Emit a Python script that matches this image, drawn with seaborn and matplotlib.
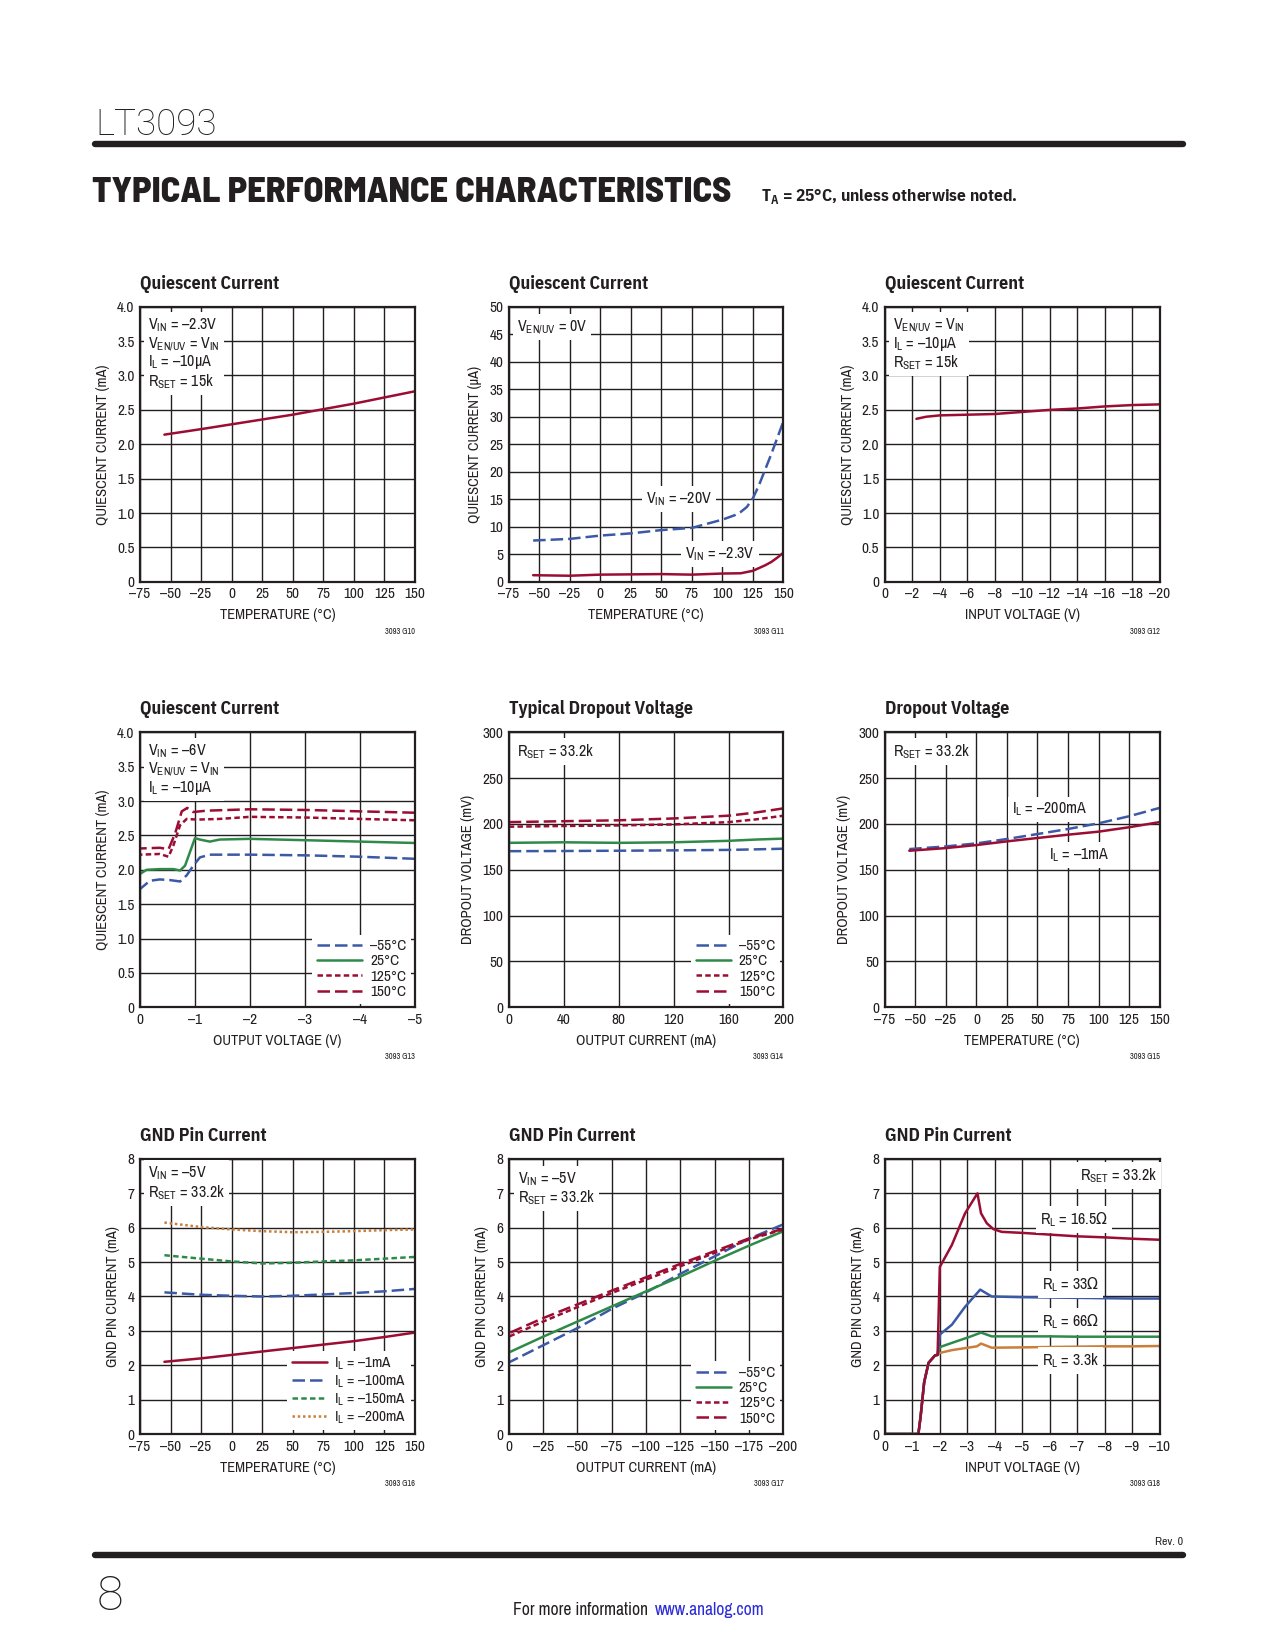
import matplotlib
matplotlib.use("Agg")
import matplotlib.pyplot as plt
from matplotlib.lines import Line2D
import seaborn as sns

sns.set_style("white")
REG = ['Archivo Narrow', 'DejaVu Sans']
BOLD = ['IBM Plex Sans Condensed', 'DejaVu Sans']
plt.rcParams['font.family'] = REG
plt.rcParams['font.stretch'] = 'condensed'
plt.rcParams['mathtext.fontset'] = 'custom'
plt.rcParams['mathtext.rm'] = 'DejaVu Sans'
plt.rcParams['mathtext.fallback'] = 'stixsans'
plt.rcParams['axes.unicode_minus'] = False

INK = '#231f20'
RED = '#9b0d33'
BLUE = '#3c59a6'
GREEN = '#2f8a4a'
ORANGE = '#c97f3b'
LONG = (0, (5, 2))
SHORT = (0, (2.2, 1.3))
DOT = (0, (1, 1.1))

# ---- tick lists ----
temp_ticks = [-75, -50, -25, 0, 25, 50, 75, 100, 125, 150]
temp_labels = ['–75', '–50', '–25', '0', '25', '50', '75', '100', '125', '150']
vin20_ticks = [0, -2, -4, -6, -8, -10, -12, -14, -16, -18, -20]
vin20_labels = ['0', '–2', '–4', '–6', '–8', '–10', '–12', '–14', '–16', '–18', '–20']
vout_ticks = [0, -1, -2, -3, -4, -5]
vout_labels = ['0', '–1', '–2', '–3', '–4', '–5']
iout_ticks = [0, 40, 80, 120, 160, 200]
iout_labels = ['0', '40', '80', '120', '160', '200']
iout_neg_ticks = [0, -25, -50, -75, -100, -125, -150, -175, -200]
iout_neg_labels = ['0', '–25', '–50', '–75', '–100', '–125', '–150', '–175', '–200']
vin10_ticks = [0, -1, -2, -3, -4, -5, -6, -7, -8, -9, -10]
vin10_labels = ['0', '–1', '–2', '–3', '–4', '–5', '–6', '–7', '–8', '–9', '–10']

# ---- G10: quiescent current vs temperature ----
g10_t = [-55, -25, 0, 25, 50, 75, 100, 125, 150]
g10_iq = [2.14, 2.22, 2.29, 2.36, 2.43, 2.51, 2.59, 2.68, 2.77]

# ---- G11: shutdown quiescent current vs temperature ----
g11_t20 = [-55, -25, 0, 25, 50, 75, 100, 110, 115, 120, 125, 130, 135, 140, 145, 150]
g11_vin20 = [7.5, 7.8, 8.4, 8.8, 9.4, 9.8, 11.3, 12.1, 12.7, 13.6, 15.2, 17.6, 20.4, 23.2, 26.2, 29.2]
g11_t23 = [-55, -25, 0, 25, 50, 75, 100, 115, 125, 135, 140, 145, 150]
g11_vin23 = [1.2, 1.1, 1.3, 1.35, 1.4, 1.3, 1.5, 1.55, 2.0, 3.0, 3.6, 4.4, 5.3]

# ---- G12: quiescent current vs input voltage ----
g12_vin = [-2.3, -3, -4, -6, -8, -10, -12, -14, -16, -18, -20]
g12_iq = [2.37, 2.40, 2.42, 2.43, 2.44, 2.47, 2.50, 2.52, 2.55, 2.57, 2.58]

# ---- G13: quiescent current vs output voltage ----
g13_v_m55 = [0, -0.18, -0.36, -0.55, -0.73, -0.85, -0.97, -1.09, -1.27, -2.0, -3.03, -4.0, -5.0]
g13_m55 = [1.72, 1.84, 1.86, 1.85, 1.83, 1.92, 2.06, 2.18, 2.22, 2.22, 2.21, 2.19, 2.16]
g13_v_25 = [0, -0.12, -0.36, -0.61, -0.73, -0.82, -0.91, -1.0, -1.09, -1.27, -1.45, -2.0, -3.03, -4.0, -5.0]
g13_25 = [1.94, 2.0, 2.01, 2.01, 1.99, 2.06, 2.26, 2.46, 2.44, 2.41, 2.44, 2.45, 2.43, 2.41, 2.39]
g13_v_125 = [0, -0.36, -0.52, -0.61, -0.73, -0.85, -1.03, -1.45, -2.0, -3.03, -4.0, -5.0]
g13_125 = [2.22, 2.23, 2.19, 2.36, 2.65, 2.74, 2.73, 2.74, 2.77, 2.76, 2.74, 2.72]
g13_v_150 = [0, -0.36, -0.52, -0.64, -0.76, -0.86, -0.97, -1.21, -2.0, -3.03, -4.0, -5.0]
g13_150 = [2.31, 2.32, 2.30, 2.53, 2.85, 2.90, 2.84, 2.86, 2.88, 2.87, 2.85, 2.83]

# ---- G14: dropout voltage vs output current ----
g14_i = [0, 40, 80, 120, 160, 180, 200]
g14_m55 = [170.3, 170.5, 170.8, 171.2, 171.7, 172.3, 173.0]
g14_25 = [179.4, 180.0, 179.4, 180.0, 181.6, 183.0, 184.0]
g14_125 = [197.0, 197.8, 198.4, 199.5, 202.0, 205.0, 209.0]
g14_150 = [202.0, 203.0, 204.0, 206.0, 209.0, 212.5, 217.0]

# ---- G15: dropout voltage vs temperature ----
g15_t = [-55, -25, 0, 25, 50, 75, 100, 125, 150]
g15_200ma = [172.6, 175.5, 178.8, 183.6, 189.0, 194.5, 200.7, 208.4, 217.5]
g15_1ma = [170.8, 173.7, 177.0, 181.0, 184.7, 188.3, 191.6, 196.4, 202.0]

# ---- G16: GND pin current vs temperature ----
g16_t = [-55, -25, 0, 25, 50, 75, 100, 125, 150]
g16_1ma = [2.1, 2.2, 2.3, 2.4, 2.5, 2.6, 2.7, 2.82, 2.95]
g16_100ma = [4.12, 4.05, 4.02, 4.0, 4.02, 4.06, 4.1, 4.15, 4.22]
g16_150ma = [5.2, 5.1, 5.02, 4.96, 4.98, 5.02, 5.05, 5.1, 5.15]
g16_200ma = [6.15, 6.02, 5.95, 5.9, 5.87, 5.88, 5.9, 5.93, 5.95]

# ---- G17: GND pin current vs output current ----
g17_i = [0, -25, -50, -75, -100, -125, -150, -175, -200]
g17_m55 = [2.08, 2.58, 3.08, 3.64, 4.12, 4.66, 5.17, 5.68, 6.1]
g17_25 = [2.37, 2.83, 3.27, 3.71, 4.15, 4.58, 5.04, 5.48, 5.9]
g17_125 = [2.83, 3.27, 3.69, 4.1, 4.49, 4.88, 5.27, 5.66, 5.95]
g17_150 = [2.93, 3.37, 3.77, 4.17, 4.56, 4.95, 5.32, 5.69, 5.97]

# ---- G18: GND pin current vs input voltage ----
g18_v_16 = [0, -1.0, -1.22, -1.3, -1.43, -1.59, -1.83, -1.92, -2.0, -2.44, -2.92, -3.37, -3.5, -3.71,
            -3.95, -4.25, -5, -6, -7, -8, -9, -10]
g18_16 = [0, 0, 0, 0.5, 1.5, 2.07, 2.29, 2.3, 4.86, 5.5, 6.42, 7.0, 6.42, 6.13,
          5.96, 5.88, 5.85, 5.8, 5.75, 5.72, 5.68, 5.65]
g18_v_33 = [0, -1.0, -1.22, -1.3, -1.43, -1.59, -1.83, -1.92, -2.01, -2.44, -2.92, -3.47, -3.89,
            -5, -6, -7, -8, -9, -10]
g18_33 = [0, 0, 0, 0.5, 1.5, 2.07, 2.29, 2.3, 2.9, 3.18, 3.7, 4.2, 4.0,
          3.98, 3.97, 3.96, 3.95, 3.94, 3.94]
g18_v_66 = [0, -1.0, -1.22, -1.3, -1.43, -1.59, -1.83, -1.92, -2.01, -2.44, -3.1, -3.5, -3.89,
            -5, -6, -7, -8, -9, -10]
g18_66 = [0, 0, 0, 0.5, 1.5, 2.07, 2.29, 2.3, 2.53, 2.65, 2.83, 2.95, 2.84,
          2.84, 2.84, 2.83, 2.83, 2.83, 2.83]
g18_v_3k = [0, -1.0, -1.22, -1.3, -1.43, -1.59, -1.83, -1.92, -2.01, -2.44, -3.35, -3.5, -3.89,
            -5, -6, -7, -8, -9, -10]
g18_3k = [0, 0, 0, 0.5, 1.5, 2.07, 2.29, 2.3, 2.36, 2.44, 2.55, 2.63, 2.51,
          2.52, 2.53, 2.54, 2.55, 2.55, 2.56]


fig = plt.figure(figsize=(12.75, 16.5), dpi=100)

col_left = [0.1098, 0.399, 0.694]
row_bottom = [0.6474, 0.3895, 0.1309]
AW, AH = 0.2155, 0.1667


def panel(r, c, title, code, xlim, ylim, xticks, xlabels, yticks, ylabels, xlabel, ylabel):
    ax = fig.add_axes([col_left[c], row_bottom[r], AW, AH])
    ax.set_xlim(*xlim)
    ax.set_ylim(*ylim)
    ax.set_xticks(xticks)
    ax.set_xticklabels(xlabels)
    ax.set_yticks(yticks)
    ax.set_yticklabels(ylabels)
    ax.set_axisbelow(True)
    ax.grid(True, color=INK, lw=1.0)
    for s in ax.spines.values():
        s.set_visible(True)
        s.set_color(INK)
        s.set_linewidth(1.6)
    ax.tick_params(length=0, pad=4, labelsize=11, colors=INK)
    ax.set_xlabel(xlabel, fontsize=10.5, color=INK, labelpad=5)
    ax.set_ylabel(ylabel, fontsize=10.5, color=INK, labelpad=5)
    ax.text(0, 1.065, title, transform=ax.transAxes, ha='left', va='baseline',
            fontsize=13, fontweight='bold', family=BOLD, color=INK)
    ax.text(1.0, -0.18, code, transform=ax.transAxes, ha='right', va='center',
            fontsize=6, color=INK)
    return ax


def line(ax, x, y, color, ls='-', label=None, z=2):
    sns.lineplot(x=x, y=y, ax=ax, color=color, linestyle=ls, linewidth=1.8,
                 label=label, zorder=z)


def note(ax, x, y, s, ha='left', va='top', coords='axes'):
    tr = ax.transAxes if coords == 'axes' else ax.transData
    ax.text(x, y, s, transform=tr, ha=ha, va=va, fontsize=11.5, color=INK, linespacing=1.05,
            zorder=4, bbox=dict(boxstyle='square,pad=0.25', facecolor='white', edgecolor='none'))


def legend(ax, hl=2.3):
    ax.legend(loc='lower right', frameon=True, facecolor='white', edgecolor='none', framealpha=1,
              fancybox=False, fontsize=11, handlelength=hl, handletextpad=0.5, labelspacing=0.08,
              borderpad=0.3, borderaxespad=0.25, labelcolor=INK)


q4 = [0, 0.5, 1.0, 1.5, 2.0, 2.5, 3.0, 3.5, 4.0]
q4l = ['0', '0.5', '1.0', '1.5', '2.0', '2.5', '3.0', '3.5', '4.0']
VIN = r'V$_{\mathregular{IN}}$'
VEN = r'V$_{\mathregular{EN/UV}}$'
IL = r'I$_{\mathregular{L}}$'
RSET = r'R$_{\mathregular{SET}}$'
RL = r'R$_{\mathregular{L}}$'
OHM = r'$\Omega$'

# G10
ax = panel(0, 0, 'Quiescent Current', '3093 G10', (-75, 150), (0, 4), temp_ticks, temp_labels,
           q4, q4l, 'TEMPERATURE (°C)', 'QUIESCENT CURRENT (mA)')
line(ax, g10_t, g10_iq, RED)
note(ax, 0.03, 0.965, f'{VIN} = –2.3V\n{VEN} = {VIN}\n{IL} = –10µA\n{RSET} = 15k')

# G11
y50 = list(range(0, 55, 5))
ax = panel(0, 1, 'Quiescent Current', '3093 G11', (-75, 150), (0, 50), temp_ticks, temp_labels,
           y50, [str(v) for v in y50], 'TEMPERATURE (°C)', 'QUIESCENT CURRENT (µA)')
line(ax, g11_t20, g11_vin20, BLUE, LONG)
line(ax, g11_t23, g11_vin23, RED)
note(ax, 0.03, 0.96, f'{VEN} = 0V')
note(ax, 64.7, 15.0, f'{VIN} = –20V', ha='center', va='center', coords='data')
note(ax, 98.2, 5.0, f'{VIN} = –2.3V', ha='center', va='center', coords='data')

# G12
ax = panel(0, 2, 'Quiescent Current', '3093 G12', (0, -20), (0, 4), vin20_ticks, vin20_labels,
           q4, q4l, 'INPUT VOLTAGE (V)', 'QUIESCENT CURRENT (mA)')
line(ax, g12_vin, g12_iq, RED)
note(ax, 0.03, 0.965, f'{VEN} = {VIN}\n{IL} = –10µA\n{RSET} = 15k')

# G13
ax = panel(1, 0, 'Quiescent Current', '3093 G13', (0, -5), (0, 4), vout_ticks, vout_labels,
           q4, q4l, 'OUTPUT VOLTAGE (V)', 'QUIESCENT CURRENT (mA)')
line(ax, g13_v_m55, g13_m55, BLUE, LONG, '–55°C')
line(ax, g13_v_25, g13_25, GREEN, '-', '25°C')
line(ax, g13_v_125, g13_125, RED, SHORT, '125°C')
line(ax, g13_v_150, g13_150, RED, LONG, '150°C')
note(ax, 0.03, 0.965, f'{VIN} = –6V\n{VEN} = {VIN}\n{IL} = –10µA')
legend(ax, 3.0)

# G14
y300 = [0, 50, 100, 150, 200, 250, 300]
ax = panel(1, 1, 'Typical Dropout Voltage', '3093 G14', (0, 200), (0, 300), iout_ticks, iout_labels,
           y300, [str(v) for v in y300], 'OUTPUT CURRENT (mA)', 'DROPOUT VOLTAGE (mV)')
line(ax, g14_i, g14_m55, BLUE, LONG, '–55°C')
line(ax, g14_i, g14_25, GREEN, '-', '25°C')
line(ax, g14_i, g14_125, RED, SHORT, '125°C')
line(ax, g14_i, g14_150, RED, LONG, '150°C')
note(ax, 0.03, 0.965, f'{RSET} = 33.2k')
legend(ax)

# G15
ax = panel(1, 2, 'Dropout Voltage', '3093 G15', (-75, 150), (0, 300), temp_ticks, temp_labels,
           y300, [str(v) for v in y300], 'TEMPERATURE (°C)', 'DROPOUT VOLTAGE (mV)')
line(ax, g15_t, g15_200ma, BLUE, LONG)
line(ax, g15_t, g15_1ma, RED)
note(ax, 0.03, 0.965, f'{RSET} = 33.2k')
note(ax, 60.2, 215.8, f'{IL} = –200mA', ha='center', va='center', coords='data')
note(ax, 84.4, 166.0, f'{IL} = –1mA', ha='center', va='center', coords='data')

# G16
y8 = list(range(0, 9))
ax = panel(2, 0, 'GND Pin Current', '3093 G16', (-75, 150), (0, 8), temp_ticks, temp_labels,
           y8, [str(v) for v in y8], 'TEMPERATURE (°C)', 'GND PIN CURRENT (mA)')
line(ax, g16_t, g16_1ma, RED, '-', f'{IL} = –1mA')
line(ax, g16_t, g16_100ma, BLUE, LONG, f'{IL} = –100mA')
line(ax, g16_t, g16_150ma, GREEN, SHORT, f'{IL} = –150mA')
line(ax, g16_t, g16_200ma, ORANGE, DOT, f'{IL} = –200mA')
note(ax, 0.03, 0.98, f'{VIN} = –5V\n{RSET} = 33.2k')
legend(ax)

# G17
ax = panel(2, 1, 'GND Pin Current', '3093 G17', (0, -200), (0, 8), iout_neg_ticks, iout_neg_labels,
           y8, [str(v) for v in y8], 'OUTPUT CURRENT (mA)', 'GND PIN CURRENT (mA)')
line(ax, g17_i, g17_m55, BLUE, LONG, '–55°C')
line(ax, g17_i, g17_25, GREEN, '-', '25°C')
line(ax, g17_i, g17_125, RED, SHORT, '125°C')
line(ax, g17_i, g17_150, RED, LONG, '150°C')
note(ax, 0.035, 0.96, f'{VIN} = –5V\n{RSET} = 33.2k')
legend(ax)

# G18
ax = panel(2, 2, 'GND Pin Current', '3093 G18', (0, -10), (0, 8), vin10_ticks, vin10_labels,
           y8, [str(v) for v in y8], 'INPUT VOLTAGE (V)', 'GND PIN CURRENT (mA)')
line(ax, g18_v_3k, g18_3k, ORANGE, z=2)
line(ax, g18_v_66, g18_66, GREEN, z=2.1)
line(ax, g18_v_33, g18_33, BLUE, z=2.2)
line(ax, g18_v_16, g18_16, RED, z=2.3)
note(ax, 0.99, 0.975, f'{RSET} = 33.2k', ha='right')
note(ax, -6.9, 6.23, f'{RL} = 16.5{OHM}', ha='center', va='center', coords='data')
note(ax, -6.76, 4.35, f'{RL} = 33{OHM}', ha='center', va='center', coords='data')
note(ax, -6.76, 3.27, f'{RL} = 66{OHM}', ha='center', va='center', coords='data')
note(ax, -6.76, 2.14, f'{RL} = 3.3k', ha='center', va='center', coords='data')

# ---- page header / footer ----
fig.text(0.0745, 0.9182, 'LT3093', fontsize=26.5, family=['Roboto', 'DejaVu Sans'],
         fontweight='light', fontstretch='normal', color=INK, ha='left', va='baseline')
fig.add_artist(Line2D([0.0745, 0.928], [0.9125, 0.9125], lw=4.6, color=INK,
                      transform=fig.transFigure))
fig.text(0.072, 0.8773, 'TYPICAL PERFORMANCE CHARACTERISTICS', fontsize=26.2, fontweight=800,
         family=['Barlow Semi Condensed', 'DejaVu Sans'], color=INK, ha='left', va='baseline')
fig.text(0.597, 0.878, r'T$_{\mathregular{A}}$ = 25°C, unless otherwise noted.', fontsize=12.5,
         fontweight='bold', family=BOLD, color=INK, ha='left', va='baseline')

fig.add_artist(Line2D([0.0745, 0.928], [0.0578, 0.0578], lw=4.6, color=INK,
                      transform=fig.transFigure))
fig.text(0.928, 0.0636, 'Rev. 0', fontsize=8.5, color=INK, ha='right', va='baseline')
fig.text(0.076, 0.0245, '8', fontsize=35, family=['Roboto', 'DejaVu Sans'], fontweight='light',
         fontstretch='normal', color=INK, ha='left', va='baseline')
fig.text(0.4024, 0.0214, 'For more information', fontsize=12.6, color=INK, ha='left', va='baseline')
fig.text(0.5135, 0.0214, 'www.analog.com', fontsize=12.6, color='#2b2bd9', ha='left', va='baseline')

fig.savefig('out.png', dpi=100)
